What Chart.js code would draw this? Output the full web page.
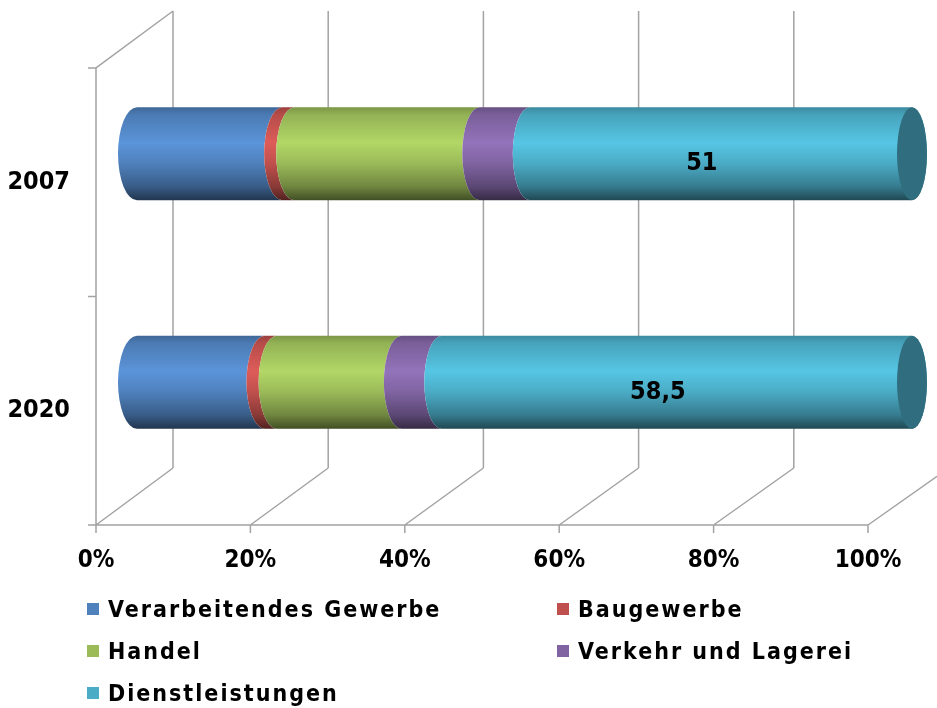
<!DOCTYPE html>
<html>
<head>
<meta charset="utf-8">
<script src="https://cdn.jsdelivr.net/npm/chart.js@4.4.1/dist/chart.umd.min.js"></script>
<style>
  html, body { margin: 0; padding: 0; background: #fff; }
  #wrap { position: relative; width: 937px; height: 708px; }
  #legend { position: absolute; left: 87px; top: 588px; display: grid; grid-template-columns: 470px 320px; }
  .item { display: flex; align-items: center; height: 42px; color: #000; white-space: nowrap;
          font: bold 23px "DejaVu Sans Condensed", "DejaVu Sans", sans-serif; letter-spacing: 2px; }
  .box { width: 12px; height: 12px; margin-right: 9px; flex: none; }
</style>
</head>
<body>
<div id="wrap">
  <canvas id="grafico"></canvas>
  <div id="legend"></div>
</div>
<script>
/* =====================================================
   Daten
===================================================== */
const JAHRE = ["2007", "2020"]
const BRANCHEN = ["Verarbeitendes Gewerbe", "Baugewerbe", "Handel", "Verkehr und Lagerei", "Dienstleistungen"]

const VERARBEITENDES = [19.4, 15.9]
const BAU            = [1.6, 1.5]
const HANDEL         = [24.7, 15.5]
const VERKEHR        = [6.7, 5.0]
const DIENST         = [51, 58.5]

const X_TICKS = [0, 20, 40, 60, 80, 100]

const COLORES = ["#4F81BD", "#C0504D", "#9BBB59", "#8064A2", "#4BACC6"]

const SERIES = [VERARBEITENDES, BAU, HANDEL, VERKEHR, DIENST]
const totales = JAHRE.map((_, j) => SERIES.reduce((s, arr) => s + arr[j], 0))
const pct = arr => arr.map((v, j) => v / totales[j] * 100)

const FONT = "'DejaVu Sans Condensed', 'DejaVu Sans', sans-serif"

// 3D-Versatz (Rückwand) und Lage der Zylinder in halber Tiefe
const DEPTH_X = 77, DEPTH_Y = -57
const BAR_DY = -28.5

function shade(hex, f) {
  const n = parseInt(hex.slice(1), 16)
  const c = [(n >> 16) & 255, (n >> 8) & 255, n & 255].map(v => Math.max(0, Math.min(255, Math.round(v * f))))
  return `rgb(${c[0]},${c[1]},${c[2]})`
}

/* =====================================================
   Plugin: Wände, Boden und Zylinder
===================================================== */
const zylinder = {
  id: "zylinder",
  beforeDatasetsDraw(chart) {
    const { ctx, chartArea: a, scales: { x } } = chart
    const frac = f => (f - a.left) / (a.right - a.left)
    const mid = f => f + 41 + 3 * frac(f)
    const rx = f => 19 - 4 * frac(f)

    ctx.save()
    ctx.strokeStyle = "#a3a3a3"
    ctx.lineWidth = 1.5
    ctx.beginPath()
    X_TICKS.forEach(v => {
      const fx = x.getPixelForValue(v)
      const bx = fx + DEPTH_X + 4 * frac(fx)
      ctx.moveTo(bx, a.top + DEPTH_Y); ctx.lineTo(bx, a.bottom + DEPTH_Y)
      ctx.moveTo(fx, a.bottom); ctx.lineTo(bx, a.bottom + DEPTH_Y)
      ctx.moveTo(fx, a.bottom); ctx.lineTo(fx, a.bottom + 8)
    })
    ctx.moveTo(a.left, a.bottom); ctx.lineTo(a.right, a.bottom)
    ctx.moveTo(a.left, a.bottom); ctx.lineTo(a.left, a.top)
    ctx.lineTo(a.left + DEPTH_X, a.top + DEPTH_Y)
    for (let i = 0; i <= JAHRE.length; i++) {
      const yy = a.top + i * (a.bottom - a.top) / JAHRE.length
      ctx.moveTo(a.left - 8, yy); ctx.lineTo(a.left, yy)
    }
    ctx.stroke()

    const last = chart.data.datasets.length - 1
    JAHRE.forEach((_, j) => {
      chart.data.datasets.forEach((ds, i) => {
        const bar = chart.getDatasetMeta(i).data[j]
        const { x: x1f, base: x0f, y: yc, height: h } = bar.getProps(["x", "base", "y", "height"], true)
        const X0 = mid(x0f), X1 = mid(x1f)
        const cy = yc + BAR_DY, top = cy - h / 2, bot = cy + h / 2
        const col = COLORES[i]

        const g = ctx.createLinearGradient(0, top, 0, bot)
        g.addColorStop(0, shade(col, 0.8))
        g.addColorStop(0.08, shade(col, 0.95))
        g.addColorStop(0.38, shade(col, 1.15))
        g.addColorStop(0.6, shade(col, 1.0))
        g.addColorStop(0.85, shade(col, 0.72))
        g.addColorStop(1, shade(col, 0.42))

        ctx.beginPath()
        ctx.moveTo(X0, top)
        ctx.lineTo(X1, top)
        ctx.ellipse(X1, cy, rx(x1f), h / 2, 0, -Math.PI / 2, Math.PI / 2, i !== last)
        ctx.lineTo(X0, bot)
        ctx.ellipse(X0, cy, rx(x0f), h / 2, 0, Math.PI / 2, -Math.PI / 2, false)
        ctx.closePath()
        ctx.fillStyle = g
        ctx.fill()

        if (i === last) {
          ctx.beginPath()
          ctx.ellipse(X1, cy, rx(x1f), h / 2, 0, 0, Math.PI * 2)
          ctx.fillStyle = shade(col, 0.64)
          ctx.fill()

          // Datenbeschriftung (Rohwert)
          ctx.fillStyle = "#000"
          ctx.font = `bold 25px ${FONT}`
          ctx.textAlign = "center"
          ctx.textBaseline = "middle"
          ctx.fillText(DIENST[j].toLocaleString("de-DE"), (X0 + X1) / 2 - 19, cy + 10)
        }
      })
    })
    ctx.restore()
    return false
  },
}

/* =====================================================
   Diagramm
===================================================== */
new Chart(document.getElementById("grafico"), {
  type: "bar",
  data: {
    labels: JAHRE,
    datasets: SERIES.map((arr, i) => ({
      label: BRANCHEN[i],
      data: pct(arr),
      backgroundColor: COLORES[i],
      categoryPercentage: 1,
      barPercentage: 0.407,
    })),
  },
  options: {
    indexAxis: "y",
    responsive: true,
    maintainAspectRatio: false,
    animation: false,
    layout: { padding: { top: 68, right: 69, left: 0, bottom: 0 } },
    plugins: { legend: { display: false }, tooltip: { enabled: false } },
    scales: {
      x: {
        stacked: true,
        min: 0, max: 100,
        afterBuildTicks: s => { s.ticks = X_TICKS.map(v => ({ value: v })) },
        afterFit: s => { s.height = 183 },
        grid: { display: false, drawTicks: false },
        border: { display: false },
        ticks: {
          padding: 21,
          color: "#000",
          font: { family: FONT, size: 24, weight: "bold" },
          callback: v => v + "%",
          maxRotation: 0,
        },
      },
      y: {
        stacked: true,
        afterFit: s => { s.width = 96 },
        grid: { display: false, drawTicks: false },
        border: { display: false },
        ticks: {
          padding: 26,
          color: "#000",
          font: { family: FONT, size: 25, weight: "bold" },
        },
      },
    },
  },
  plugins: [zylinder],
})

/* =====================================================
   Legende
===================================================== */
const leyenda = document.getElementById("legend")
BRANCHEN.forEach((nombre, i) => {
  const item = document.createElement("div")
  item.className = "item"
  const box = document.createElement("span")
  box.className = "box"
  box.style.background = COLORES[i]
  item.appendChild(box)
  item.appendChild(document.createTextNode(nombre))
  leyenda.appendChild(item)
})
</script>
</body>
</html>
